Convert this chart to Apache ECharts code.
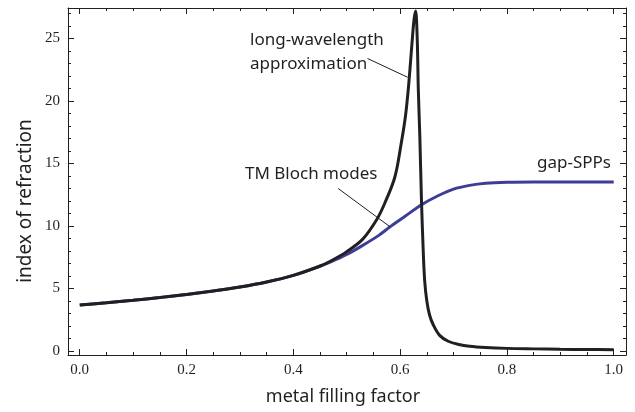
<!DOCTYPE html>
<html>
<head>
<meta charset="utf-8">
<script src="https://cdn.jsdelivr.net/npm/echarts@6/dist/echarts.min.js"></script>
<style>html,body{margin:0;padding:0;background:#fff}#c{width:635px;height:412px}</style>
</head>
<body>
<div id="c"></div>
<script>
// long-wavelength approximation (black)
const blackX = [0,0.05,0.1,0.15,0.2,0.25,0.3,0.35,0.4,0.45,0.47,0.5,0.53,0.556,0.571,0.59,0.602,0.61,0.616,0.622,0.626,0.629,0.632,0.634,0.637,0.64,0.643,0.646,0.65,0.655,0.662,0.674,0.69,0.71,0.73,0.76,0.8,0.85,0.9,0.95,1.0];
const blackY = [3.68,3.86,4.06,4.28,4.52,4.8,5.12,5.52,6.05,6.8,7.2,7.95,8.95,10.5,11.8,13.9,16.6,18.8,21.3,24.5,26.5,27.2,25.0,21.0,17.0,12.0,8.3,5.6,4.0,2.9,2.1,1.25,0.78,0.52,0.38,0.28,0.21,0.17,0.14,0.12,0.1];
// TM Bloch modes / gap-SPPs (blue)
const blueX = [0,0.05,0.1,0.15,0.2,0.25,0.3,0.35,0.4,0.45,0.47,0.5,0.53,0.56,0.58,0.61,0.64,0.67,0.7,0.73,0.76,0.8,0.85,0.9,0.95,1.0];
const blueY = [3.68,3.86,4.06,4.28,4.52,4.8,5.12,5.52,6.05,6.78,7.12,7.72,8.45,9.25,9.9,10.8,11.7,12.4,12.95,13.25,13.42,13.5,13.52,13.52,13.52,13.52];
// ticks
const xLabelVals = [0,0.2,0.4,0.6,0.8,1.0];
const xTickVals = [0,0.05,0.1,0.15,0.2,0.25,0.3,0.35,0.4,0.45,0.5,0.55,0.6,0.65,0.7,0.75,0.8,0.85,0.9,0.95,1.0];
const yLabelVals = [0,5,10,15,20,25];
const yTickVals = [0,1,2,3,4,5,6,7,8,9,10,11,12,13,14,15,16,17,18,19,20,21,22,23,24,25,26,27];
// annotations
const annLong = [[0.539,23.4],[0.614,21.9]];
const annTM = [[0.484,13.0],[0.581,9.94]];

const X_MIN = -0.022, X_MAX = 1.023, Y_MIN = -0.32, Y_MAX = 27.44;
const INK = '#231f20';
const serif = 'Liberation Serif';
const sans = 'Noto Sans';

const GRID = {left: 68, right: 9, top: 8, bottom: 57};
const W = 635 - GRID.left - GRID.right, H = 412 - GRID.top - GRID.bottom;
// pixel lengths of ticks converted to data units through the axis extents
const pxX = (X_MAX - X_MIN) / W, pxY = (Y_MAX - Y_MIN) / H;
const MAJ = 6, MIN = 3;

function xAx(pos, labels) {
  return {
    type: 'value', position: pos, min: X_MIN, max: X_MAX,
    axisLine: {show: true, onZero: false, lineStyle: {color: INK, width: 1}},
    axisTick: {show: false},
    axisLabel: {show: labels, customValues: xLabelVals, formatter: v => v.toFixed(1), margin: 8,
      fontFamily: serif, fontSize: 15, color: INK},
    splitLine: {show: false}
  };
}
function yAx(pos, labels) {
  return {
    type: 'value', position: pos, min: Y_MIN, max: Y_MAX,
    axisLine: {show: true, onZero: false, lineStyle: {color: INK, width: 1}},
    axisTick: {show: false},
    axisLabel: {show: labels, customValues: yLabelVals, formatter: v => String(v), margin: 8,
      fontFamily: serif, fontSize: 15, color: INK},
    splitLine: {show: false}
  };
}

const tickLines = [];
xTickVals.forEach(v => {
  const len = (xLabelVals.indexOf(v) >= 0 ? MAJ : MIN) * pxY;
  tickLines.push([{coord: [v, Y_MIN]}, {coord: [v, Y_MIN + len]}]);
  tickLines.push([{coord: [v, Y_MAX]}, {coord: [v, Y_MAX - len]}]);
});
yTickVals.forEach(v => {
  const len = (yLabelVals.indexOf(v) >= 0 ? MAJ : MIN) * pxX;
  tickLines.push([{coord: [X_MIN, v]}, {coord: [X_MIN + len, v]}]);
  tickLines.push([{coord: [X_MAX, v]}, {coord: [X_MAX - len, v]}]);
});

const chart = echarts.init(document.getElementById('c'), null, {renderer: 'canvas'});
chart.setOption({
  animation: false,
  backgroundColor: '#fff',
  grid: Object.assign({containLabel: false}, GRID),
  xAxis: [xAx('bottom', true), xAx('top', false)],
  yAxis: [yAx('left', true), yAx('right', false)],
  series: [
    {
      type: 'line', xAxisIndex: 0, yAxisIndex: 0,
      data: blueX.map((x, i) => [x, blueY[i]]),
      showSymbol: false, smooth: 0.3, clip: true, z: 2,
      lineStyle: {color: '#3d3d98', width: 3},
      markLine: {
        silent: true, symbol: ['none', 'none'], animation: false, precision: 6,
        label: {show: false},
        lineStyle: {color: INK, width: 1, type: 'solid'},
        data: tickLines
      }
    },
    {
      type: 'line', xAxisIndex: 0, yAxisIndex: 0,
      data: blackX.map((x, i) => [x, blackY[i]]),
      showSymbol: false, smooth: 0.35, clip: true, z: 3,
      lineStyle: {color: INK, width: 3},
      markLine: {
        silent: true, symbol: ['none', 'none'], animation: false,
        label: {show: false},
        lineStyle: {color: INK, width: 1, type: 'solid'},
        data: [
          [{coord: annLong[0]}, {coord: annLong[1]}],
          [{coord: annTM[0]}, {coord: annTM[1]}]
        ]
      }
    }
  ],
  graphic: [
    {type: 'text', x: 250, y: 40, style: {text: 'long-wavelength', fontFamily: sans, fontSize: 17, fill: INK, verticalAlign: 'middle'}},
    {type: 'text', x: 250, y: 64, style: {text: 'approximation', fontFamily: sans, fontSize: 17, fill: INK, verticalAlign: 'middle'}},
    {type: 'text', x: 245, y: 174, style: {text: 'TM Bloch modes', fontFamily: sans, fontSize: 17, fill: INK, verticalAlign: 'middle'}},
    {type: 'text', x: 537, y: 163, style: {text: 'gap-SPPs', fontFamily: sans, fontSize: 17, fill: INK, verticalAlign: 'middle'}},
    {type: 'text', x: 343, y: 397, style: {text: 'metal filling factor', fontFamily: sans, fontSize: 18, fill: INK, align: 'center', verticalAlign: 'middle'}},
    {type: 'text', x: 26, y: 201, rotation: Math.PI / 2, style: {text: 'index of refraction', fontFamily: sans, fontSize: 19, fill: INK, align: 'center', verticalAlign: 'middle'}}
  ]
});
</script>
</body>
</html>
